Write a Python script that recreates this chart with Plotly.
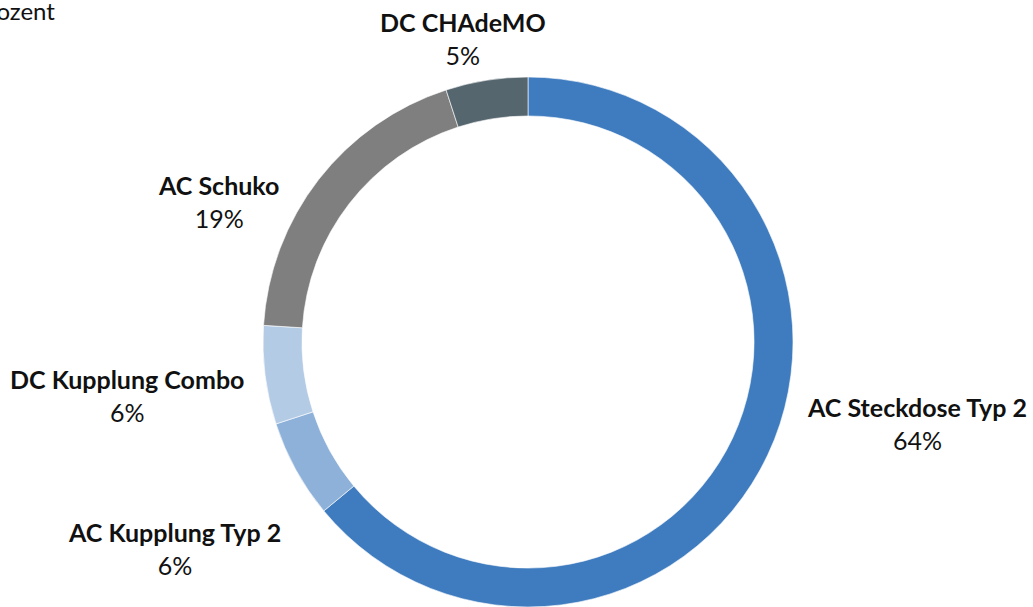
import plotly.graph_objects as go

# Anteile der Ladepunkte nach Steckertyp (in Prozent)
labels = ['AC Steckdose Typ 2', 'AC Kupplung Typ 2', 'DC Kupplung Combo', 'AC Schuko', 'DC CHAdeMO']
values = [64, 6, 6, 19, 5]
colors = ['#3F7CBF', '#8EB1DA', '#B4CBE6', '#7F7F7F', '#56666F']

W, H = 1033, 607
FONT = 'Lato'

# Position der Beschriftungen (Pixel, Mitte des Textblocks)
label_pos = [(917, 423), (174, 548), (127, 396), (218, 201), (463, 38)]

fig = go.Figure(go.Pie(
    labels=labels,
    values=values,
    hole=0.853,
    sort=False,
    direction='clockwise',
    rotation=0,
    marker=dict(colors=colors, line=dict(color='white', width=0.6)),
    textinfo='none',
    domain=dict(x=[263 / W, 793 / W], y=[0.0, 1 - 77 / H]),
    showlegend=False,
    hoverinfo='label+percent',
))

total = sum(values)
for lab, val, (px, py) in zip(labels, values, label_pos):
    fig.add_annotation(text=f'<b>{lab}</b><br>{val / total:.0%}',
                       xref='paper', yref='paper', x=px / W, y=1 - py / H,
                       xanchor='center', yanchor='middle', showarrow=False, align='center',
                       font=dict(family=FONT, size=25, color='#111111'))

fig.add_annotation(text='Prozent', xref='paper', yref='paper', x=57 / W, y=1 - 10 / H,
                   xanchor='right', yanchor='middle', showarrow=False,
                   font=dict(family=FONT, size=24, color='#111111'))

fig.update_layout(width=W, height=H, margin=dict(l=0, r=0, t=0, b=0),
                  paper_bgcolor='white', plot_bgcolor='white')

# Seitenrand des Browsers entfernen, damit das Diagramm bündig sitzt
fig.write_html('out.html', config={'displayModeBar': False},
               post_script="document.body.style.margin='0';")
